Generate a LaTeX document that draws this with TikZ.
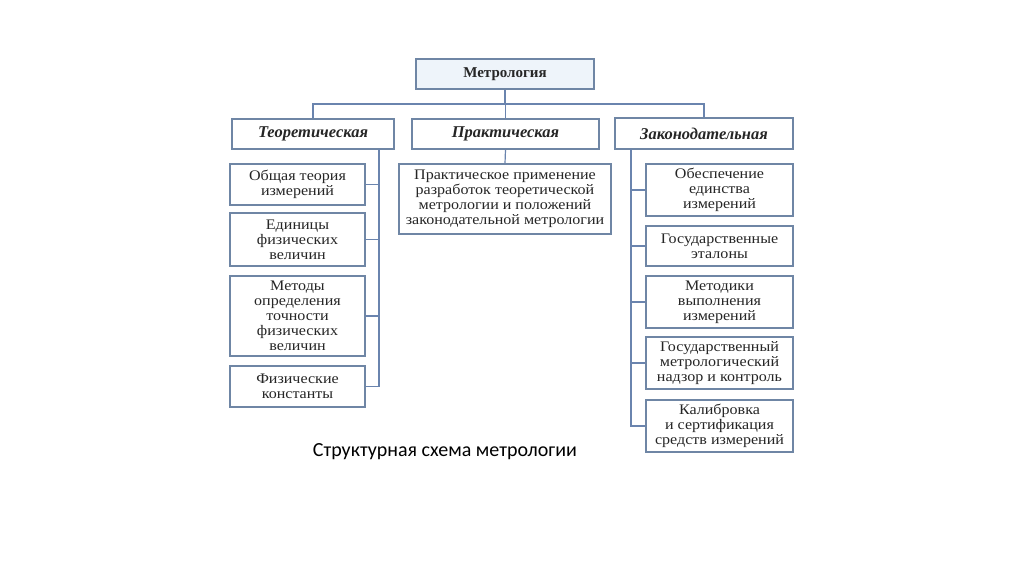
\documentclass[tikz,border=0pt]{standalone}
\usepackage{fontspec}
\setmainfont{Liberation Serif}
\newfontfamily\boxfont{Liberation Serif}[FakeStretch=1.1]
\newfontfamily\capfont{Carlito}
\lineskiplimit=-20pt
\definecolor{bord}{HTML}{6F86A5}
\definecolor{lnk}{HTML}{6A84AE}
\definecolor{fillA}{HTML}{EEF4FA}
\begin{document}
\begin{tikzpicture}[x=1pt,y=-1pt,
  box/.style={draw=bord,line width=1.3pt,fill=white,inner sep=0pt,align=center,
    font=\boxfont\fontsize{14.6}{15}\selectfont,text=black!85},
  head/.style={box,font=\bfseries\itshape\fontsize{16.5}{18}\selectfont},
  lnkline/.style={draw=lnk,line width=1.2pt}]
\useasboundingbox (0,0) rectangle (1024,574);
\fill[white] (0,0) rectangle (1024,574);
% root
\node[box,fill=fillA,minimum width=178pt,minimum height=30pt,font=\bfseries\fontsize{15}{16}\selectfont] (root) at (505,74) {Метрология};
% level 2
\node[head,minimum width=162pt,minimum height=30pt] (teo) at (313,134) {Теоретическая};
\node[head,minimum width=187pt,minimum height=30pt] (pra) at (505.5,134) {Практическая};
\node[head,minimum width=178pt,minimum height=31pt] (zak) at (704,133.5) {Законодательная};
% practical child
\node[box,minimum width=212pt,minimum height=70pt] (p1) at (505,199) {Практическое применение\\разработок теоретической\\метрологии и положений\\законодательной метрологии};
% theoretical children
\node[box,minimum width=135pt,minimum height=41pt] (t1) at (297.5,184.5) {Общая теория\\измерений};
\node[box,minimum width=135pt,minimum height=53pt] (t2) at (297.5,239.5) {Единицы\\физических\\величин};
\node[box,minimum width=135pt,minimum height=80pt] (t3) at (297.5,316) {Методы\\определения\\точности\\физических\\величин};
\node[box,minimum width=135pt,minimum height=41pt] (t4) at (297.5,386.5) {Физические\\константы};
% legislative children
\node[box,minimum width=147pt,minimum height=52pt] (z1) at (719.5,190) {Обеспечение\\единства\\измерений};
\node[box,minimum width=147pt,minimum height=40pt] (z2) at (719.5,246) {Государственные\\эталоны};
\node[box,minimum width=147pt,minimum height=52pt] (z3) at (719.5,302) {Методики\\выполнения\\измерений};
\node[box,minimum width=147pt,minimum height=52pt] (z4) at (719.5,363) {Государственный\\метрологический\\надзор и контроль};
\node[box,minimum width=147pt,minimum height=52pt] (z5) at (719.5,426) {Калибровка\\и сертификация\\средств измерений};
% connectors
\coordinate (busL) at (313,104);
\coordinate (busR) at (704,104);
\draw[lnkline] (root.south) -- (root.south |- busL);
\draw[lnkline] (teo.north) -- (busL) -- (busR) -- (zak.north);
\draw[lnkline] (pra.north) -- (pra.north |- busL);
\draw[lnkline] (pra.south) -- (p1.north);
\coordinate (tv) at (379,149);
\draw[lnkline] (tv) -- (tv |- t4.east) -- (t4.east);
\foreach \n in {t1,t2,t3} \draw[lnkline] (\n.east) -- (tv |- \n.east);
\coordinate (zv) at (631,149);
\draw[lnkline] (zv) -- (zv |- z5.west) -- (z5.west);
\foreach \n in {z1,z2,z3,z4} \draw[lnkline] (\n.west) -- (zv |- \n.west);
% caption
\node[font=\capfont\fontsize{20}{22}\selectfont,text=black,inner sep=0pt] (cap) at (445,452) {Структурная схема метрологии};
\end{tikzpicture}
\end{document}
